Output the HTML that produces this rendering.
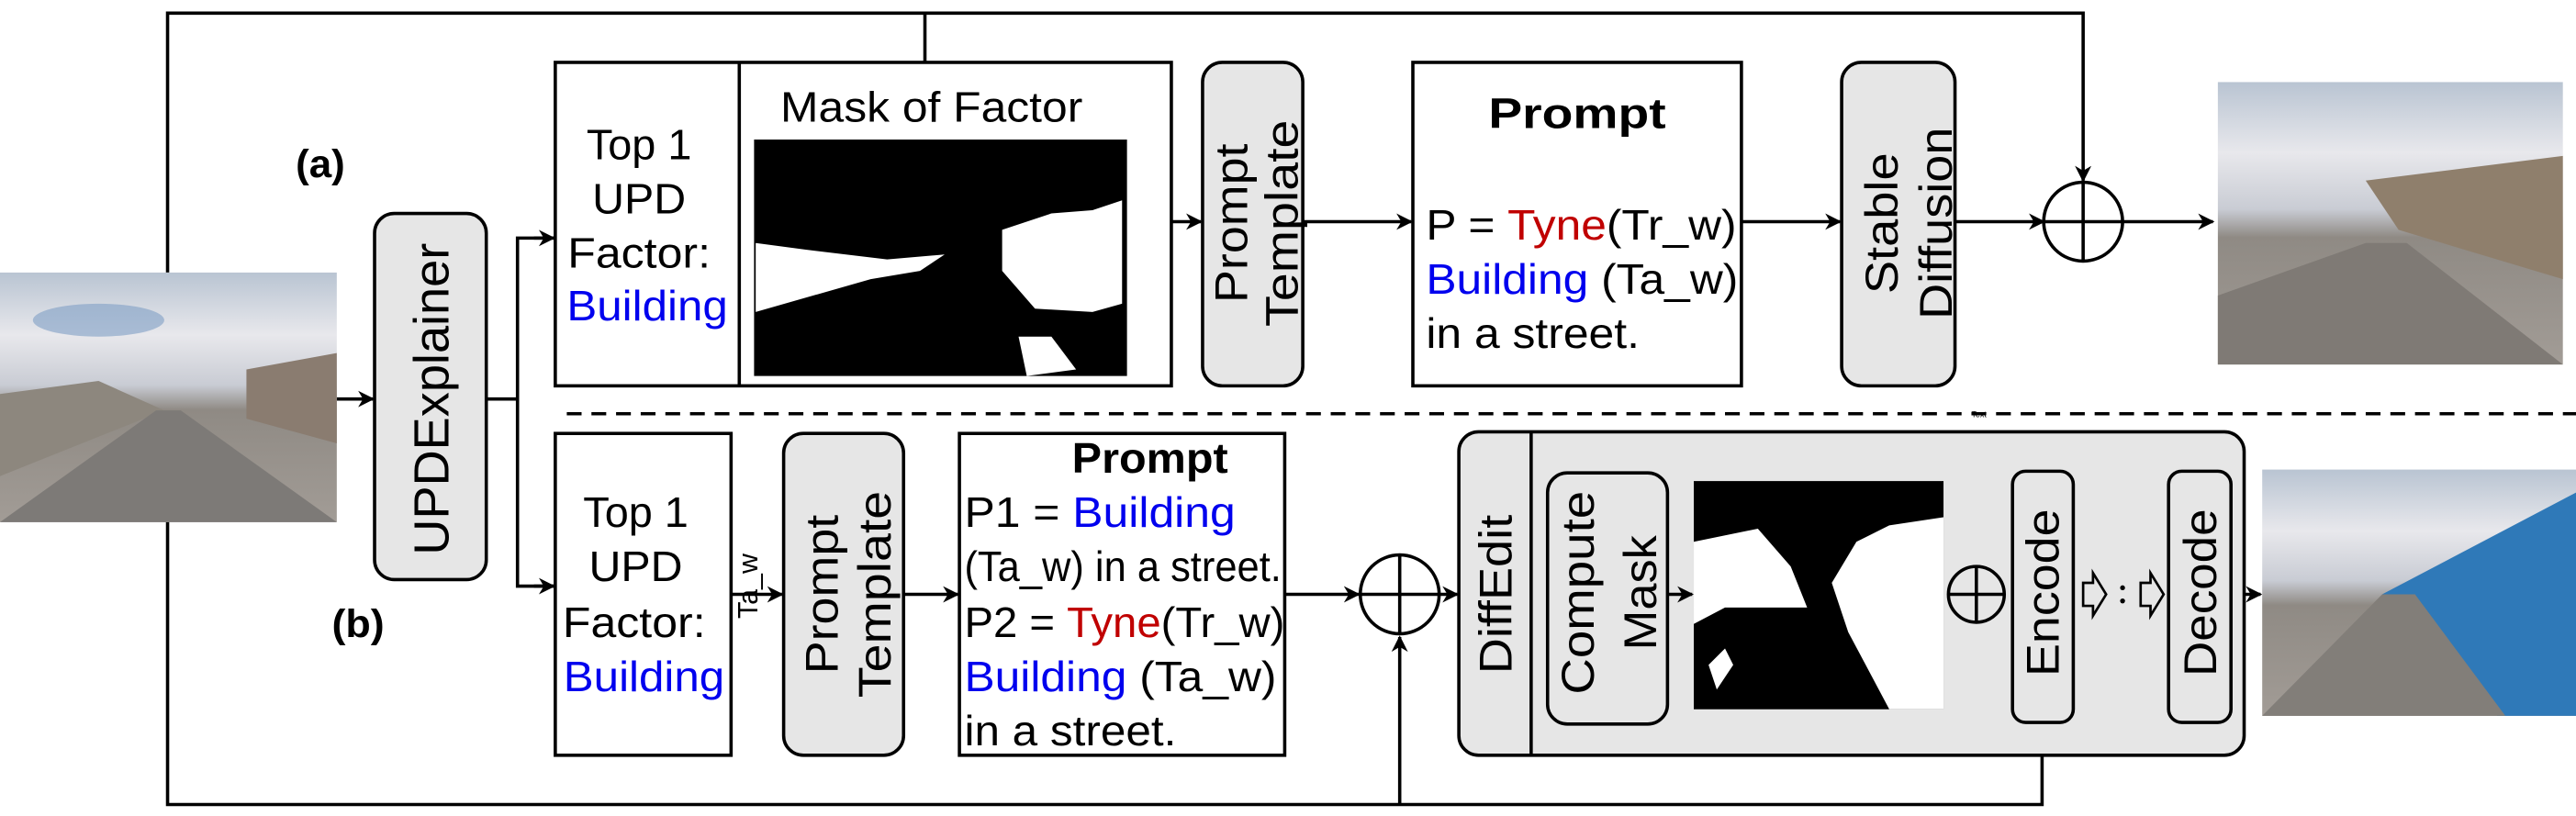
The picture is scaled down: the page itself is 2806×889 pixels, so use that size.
<!DOCTYPE html>
<html><head><meta charset="utf-8"><style>
html,body{margin:0;padding:0;background:#fff;}
svg{display:block;}
.t{font-family:"Liberation Sans",sans-serif;font-size:26px;fill:#000;}
.r{font-family:"Liberation Sans",sans-serif;font-size:28px;fill:#000;}
</style></head><body>
<svg width="2806" height="889" viewBox="0 0 1568 497" preserveAspectRatio="none" xmlns="http://www.w3.org/2000/svg">
<defs>
<marker id="a" markerWidth="10" markerHeight="10" refX="9" refY="5" orient="auto" markerUnits="userSpaceOnUse"><path d="M0,0 L10,5 L0,10 L3,5 z" fill="#000"/></marker>
<linearGradient id="sky" x1="0" y1="0" x2="0" y2="1"><stop offset="0" stop-color="#b9c4d2"/><stop offset="0.25" stop-color="#e8e8ec"/><stop offset="0.45" stop-color="#c9ccd4"/><stop offset="0.55" stop-color="#8f8a84"/><stop offset="1" stop-color="#a29c96"/></linearGradient>
</defs>
<g fill="none" stroke="#000" stroke-width="2">
<polyline points="102,166 102,8 1268,8 1268,110" marker-end="url(#a)"/>
<line x1="563" y1="8" x2="563" y2="38"/>
<polyline points="102,318 102,490 1243,490 1243,442" marker-end="url(#a)"/>
<polyline points="852,490 852,388" marker-end="url(#a)"/>
<line x1="205" y1="243" x2="227" y2="243" marker-end="url(#a)"/>
<rect x="228" y="130" width="68" height="223" rx="12" fill="#e6e6e6"/>
<line x1="296" y1="243" x2="315" y2="243"/>
<polyline points="338,145 315,145 315,357 337,357"/>
<line x1="325" y1="145" x2="337" y2="145" marker-end="url(#a)"/>
<line x1="325" y1="357" x2="337" y2="357" marker-end="url(#a)"/>
<rect x="338" y="38" width="375" height="197"/>
<line x1="450" y1="38" x2="450" y2="235"/>
<line x1="713" y1="135" x2="731" y2="135" marker-end="url(#a)"/>
<rect x="732" y="38" width="61" height="197" rx="12" fill="#e6e6e6"/>
<line x1="793" y1="135" x2="859" y2="135" marker-end="url(#a)"/>
<rect x="860" y="38" width="200" height="197"/>
<line x1="1060" y1="135" x2="1120" y2="135" marker-end="url(#a)"/>
<rect x="1121" y="38" width="69" height="197" rx="12" fill="#e6e6e6"/>
<line x1="1190" y1="135" x2="1244" y2="135" marker-end="url(#a)"/>
<circle cx="1268" cy="135" r="24"/>
<line x1="1268" y1="111" x2="1268" y2="159"/><line x1="1244" y1="135" x2="1292" y2="135"/>
<line x1="1292" y1="135" x2="1347" y2="135" marker-end="url(#a)"/>
<line x1="345" y1="252" x2="1568" y2="252" stroke-dasharray="9,6"/>
<rect x="338" y="264" width="107" height="196"/>
<line x1="445" y1="362" x2="476" y2="362" marker-end="url(#a)"/>
<rect x="477" y="264" width="73" height="196" rx="12" fill="#e6e6e6"/>
<line x1="550" y1="362" x2="583" y2="362" marker-end="url(#a)"/>
<rect x="584" y="264" width="198" height="196"/>
<line x1="782" y1="362" x2="827" y2="362" marker-end="url(#a)"/>
<circle cx="852" cy="362" r="24"/>
<line x1="852" y1="338" x2="852" y2="386"/><line x1="828" y1="362" x2="876" y2="362"/>
<line x1="876" y1="362" x2="887" y2="362" marker-end="url(#a)"/>
<rect x="888" y="263" width="478" height="197" rx="12" fill="#e6e6e6"/>
<path d="M932,263 V460"/>
<rect x="942" y="288" width="73" height="153" rx="12" fill="#e6e6e6"/>
<line x1="1015" y1="362" x2="1030" y2="362" marker-end="url(#a)"/>
<circle cx="1203" cy="362" r="17"/>
<line x1="1203" y1="345" x2="1203" y2="379"/><line x1="1186" y1="362" x2="1220" y2="362"/>
<rect x="1225" y="287" width="37" height="153" rx="8" fill="#e6e6e6"/>
<rect x="1320" y="287" width="38" height="153" rx="8" fill="#e6e6e6"/>
<path d="M1268,355 h6 v-6 l8,13 l-8,13 v-6 h-6 z" stroke-width="1.5"/>
<path d="M1303,355 h6 v-6 l8,13 l-8,13 v-6 h-6 z" stroke-width="1.5"/>
<line x1="1366" y1="362" x2="1376" y2="362" marker-end="url(#a)"/>
</g>
<circle cx="1181" cy="356" r="1.5"/><circle cx="1181" cy="368" r="1.5"/>
<circle cx="1292" cy="358" r="1.5"/><circle cx="1292" cy="366" r="1.5"/>
<!-- images -->
<rect x="0" y="166" width="205" height="152" fill="url(#sky)"/>
<ellipse cx="60" cy="195" rx="40" ry="10" fill="#7f9fc4" opacity="0.6"/>
<polygon points="0,240 60,232 100,250 0,290" fill="#8d877e"/>
<polygon points="150,225 205,215 205,270 150,255" fill="#8a7c70"/>
<polygon points="0,318 95,250 110,250 205,318" fill="#7d7a77"/>
<rect x="1350" y="50" width="210" height="172" fill="url(#sky)"/>
<polygon points="1350,180 1440,148 1465,148 1560,222 1350,222" fill="#7f7a75"/>
<polygon points="1440,110 1560,95 1560,170 1460,140" fill="#8f7f6c"/>
<rect x="1377" y="286" width="191" height="150" fill="url(#sky)"/>
<polygon points="1450,362 1568,300 1568,436 1520,436" fill="#2f79b8"/>
<polygon points="1377,436 1450,362 1470,362 1525,436" fill="#827e79"/>
<!-- masks -->
<rect x="459" y="85" width="227" height="144" fill="#000"/>
<polygon points="460,148 490,152 540,158 575,155 560,165 530,170 460,190" fill="#fff"/>
<polygon points="610,140 640,130 665,128 683,122 683,185 665,190 630,188 610,165" fill="#fff"/>
<polygon points="620,205 640,205 655,225 625,229" fill="#fff"/>
<rect x="1031" y="293" width="152" height="139" fill="#000"/>
<polygon points="1031,330 1070,322 1090,345 1100,370 1050,370 1031,380" fill="#fff"/>
<polygon points="1115,355 1130,330 1150,320 1183,315 1183,432 1150,432 1125,385" fill="#fff"/>
<polygon points="1040,405 1050,395 1055,405 1045,420" fill="#fff"/>
<!-- text -->
<text class="r" x="195" y="108" font-weight="bold" style="font-size:24px" text-anchor="middle" textLength="30" lengthAdjust="spacingAndGlyphs">(a)</text>
<text class="r" x="218" y="388" font-weight="bold" style="font-size:24px" text-anchor="middle" textLength="32" lengthAdjust="spacingAndGlyphs">(b)</text>
<text class="r" transform="translate(273,243) rotate(-90)" text-anchor="middle" style="font-size:30px" textLength="190" lengthAdjust="spacingAndGlyphs">UPDExplainer</text>
<g class="t" text-anchor="middle">
<text x="389" y="97" textLength="64" lengthAdjust="spacingAndGlyphs">Top 1</text>
<text x="389" y="130" textLength="57" lengthAdjust="spacingAndGlyphs">UPD</text>
<text x="389" y="163" textLength="87" lengthAdjust="spacingAndGlyphs">Factor:</text>
<text x="394" y="195" fill="#0000ee" textLength="98" lengthAdjust="spacingAndGlyphs">Building</text>
<text x="567" y="74" textLength="184" lengthAdjust="spacingAndGlyphs">Mask of Factor</text>
<text x="387" y="321" textLength="64" lengthAdjust="spacingAndGlyphs">Top 1</text>
<text x="387" y="354" textLength="57" lengthAdjust="spacingAndGlyphs">UPD</text>
<text x="386" y="388" textLength="87" lengthAdjust="spacingAndGlyphs">Factor:</text>
<text x="392" y="421" fill="#0000ee" textLength="98" lengthAdjust="spacingAndGlyphs">Building</text>
<text x="960" y="78" font-weight="bold" textLength="108" lengthAdjust="spacingAndGlyphs">Prompt</text>
<text x="700" y="288" font-weight="bold" textLength="95" lengthAdjust="spacingAndGlyphs">Prompt</text>
</g>
<g class="t">
<text x="868" y="146" textLength="189" lengthAdjust="spacingAndGlyphs">P = <tspan fill="#c00000">Tyne</tspan>(Tr_w)</text>
<text x="868" y="179" textLength="190" lengthAdjust="spacingAndGlyphs"><tspan fill="#0000ee">Building</tspan> (Ta_w)</text>
<text x="868" y="212" textLength="130" lengthAdjust="spacingAndGlyphs">in a street.</text>
<text x="587" y="321" textLength="165" lengthAdjust="spacingAndGlyphs">P1 = <tspan fill="#0000ee">Building</tspan></text>
<text x="587" y="354" textLength="193" lengthAdjust="spacingAndGlyphs">(Ta_w) in a street.</text>
<text x="587" y="388" textLength="195" lengthAdjust="spacingAndGlyphs">P2 = <tspan fill="#c00000">Tyne</tspan>(Tr_w)</text>
<text x="587" y="421" textLength="190" lengthAdjust="spacingAndGlyphs"><tspan fill="#0000ee">Building</tspan> (Ta_w)</text>
<text x="587" y="454" textLength="129" lengthAdjust="spacingAndGlyphs">in a street.</text>
</g>
<g class="r" text-anchor="middle">
<text transform="translate(762,136) rotate(-90)"><tspan x="0" y="-3" textLength="97" lengthAdjust="spacingAndGlyphs">Prompt</tspan><tspan x="0" y="28" textLength="126" lengthAdjust="spacingAndGlyphs">Template</tspan></text>
<text transform="translate(1158,136) rotate(-90)"><tspan x="0" y="-3" textLength="86" lengthAdjust="spacingAndGlyphs">Stable</tspan><tspan x="0" y="30" textLength="117" lengthAdjust="spacingAndGlyphs">Diffusion</tspan></text>
<text transform="translate(513,362) rotate(-90)"><tspan x="0" y="-3" textLength="97" lengthAdjust="spacingAndGlyphs">Prompt</tspan><tspan x="0" y="29" textLength="126" lengthAdjust="spacingAndGlyphs">Template</tspan></text>
<text transform="translate(920,362) rotate(-90)" textLength="97" lengthAdjust="spacingAndGlyphs">DiffEdit</text>
<text transform="translate(979,361) rotate(-90)"><tspan x="0" y="-9" textLength="124" lengthAdjust="spacingAndGlyphs">Compute</tspan><tspan x="0" y="29" textLength="70" lengthAdjust="spacingAndGlyphs">Mask</tspan></text>
<text transform="translate(1253,361) rotate(-90)" textLength="102" lengthAdjust="spacingAndGlyphs">Encode</text>
<text transform="translate(1349,361) rotate(-90)" textLength="102" lengthAdjust="spacingAndGlyphs">Decode</text>
<text transform="translate(461,357) rotate(-90)" style="font-size:17px">Ta_w</text>
</g>
<text x="1200" y="254" class="r" style="font-size:5px">Text</text>
</svg>
</body></html>
